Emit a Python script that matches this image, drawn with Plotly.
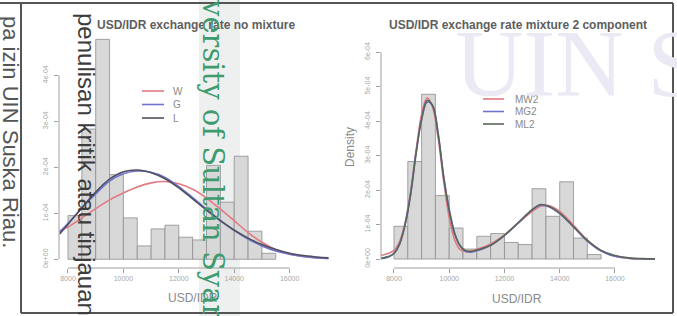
import plotly.graph_objects as go

FIG_W, FIG_H = 677, 316

# ---------------- data ----------------
bin_left_edges = [8000, 8500, 9000, 9500, 10000, 10500, 11000, 11500,
                  12000, 12500, 13000, 13500, 14000, 14500, 15000]
BIN_WIDTH = 500
hist_density = [0.95e-4, 2.83e-4, 4.78e-4, 1.84e-4, 0.90e-4, 0.29e-4, 0.66e-4, 0.74e-4,
                0.48e-4, 0.42e-4, 2.04e-4, 1.24e-4, 2.24e-4, 0.61e-4, 0.13e-4]

# no-mixture fits (left panel)
x_single = [7700, 8000, 8500, 9000, 9500, 10000, 10500, 11000, 11500, 12000, 12500,
            13000, 13500, 14000, 14500, 15000, 15500, 16000, 16500, 17000, 17400]
dens_W = [0.62e-4, 0.70e-4, 0.90e-4, 1.10e-4, 1.29e-4, 1.44e-4, 1.57e-4, 1.66e-4, 1.69e-4,
          1.64e-4, 1.52e-4, 1.33e-4, 1.09e-4, 0.84e-4, 0.58e-4, 0.37e-4, 0.21e-4, 0.11e-4,
          0.06e-4, 0.03e-4, 0.02e-4]
dens_G = [0.59e-4, 0.78e-4, 1.11e-4, 1.42e-4, 1.70e-4, 1.86e-4, 1.92e-4, 1.89e-4, 1.78e-4,
          1.58e-4, 1.34e-4, 1.09e-4, 0.84e-4, 0.63e-4, 0.44e-4, 0.29e-4, 0.18e-4, 0.11e-4,
          0.06e-4, 0.03e-4, 0.015e-4]
dens_L = [0.55e-4, 0.76e-4, 1.12e-4, 1.46e-4, 1.74e-4, 1.90e-4, 1.94e-4, 1.88e-4, 1.75e-4,
          1.55e-4, 1.31e-4, 1.07e-4, 0.84e-4, 0.63e-4, 0.46e-4, 0.32e-4, 0.21e-4, 0.13e-4,
          0.08e-4, 0.05e-4, 0.03e-4]

# 2-component mixture fits (right panel)
x_mix = [7530, 7800, 8000, 8200, 8400, 8600, 8800, 9000, 9200, 9400, 9600, 9800, 10000,
         10200, 10400, 10600, 10800, 11000, 11500, 12000, 12500, 13000, 13300, 13600,
         14000, 14500, 15000, 15500, 16000, 16500, 17000, 17450]
dens_MW2 = [0.10e-4, 0.17e-4, 0.25e-4, 0.50e-4, 1.05e-4, 1.95e-4, 3.15e-4, 4.20e-4, 4.68e-4,
            4.40e-4, 3.50e-4, 2.25e-4, 1.20e-4, 0.55e-4, 0.27e-4, 0.22e-4, 0.24e-4, 0.28e-4,
            0.44e-4, 0.70e-4, 1.04e-4, 1.38e-4, 1.53e-4, 1.55e-4, 1.38e-4, 0.98e-4, 0.55e-4,
            0.24e-4, 0.08e-4, 0.02e-4, 0.004e-4, 0.001e-4]
dens_MG2 = [0.01e-4, 0.06e-4, 0.17e-4, 0.45e-4, 1.00e-4, 1.90e-4, 3.10e-4, 4.05e-4, 4.55e-4,
            4.45e-4, 3.65e-4, 2.35e-4, 1.45e-4, 0.75e-4, 0.38e-4, 0.22e-4, 0.20e-4, 0.24e-4,
            0.40e-4, 0.68e-4, 1.05e-4, 1.42e-4, 1.56e-4, 1.52e-4, 1.32e-4, 0.93e-4, 0.52e-4,
            0.23e-4, 0.08e-4, 0.025e-4, 0.006e-4, 0.001e-4]
dens_ML2 = [0.02e-4, 0.07e-4, 0.16e-4, 0.42e-4, 0.98e-4, 1.85e-4, 3.05e-4, 4.05e-4, 4.60e-4,
            4.45e-4, 3.60e-4, 2.40e-4, 1.40e-4, 0.72e-4, 0.38e-4, 0.24e-4, 0.22e-4, 0.26e-4,
            0.40e-4, 0.69e-4, 1.06e-4, 1.43e-4, 1.58e-4, 1.53e-4, 1.33e-4, 0.94e-4, 0.54e-4,
            0.25e-4, 0.10e-4, 0.035e-4, 0.012e-4, 0.004e-4]

x_tickvals = [8000, 10000, 12000, 14000, 16000]
x_ticktext = ["8000", "10000", "12000", "14000", "16000"]
y_tickvals_left = [0, 1e-4, 2e-4, 3e-4, 4e-4]
y_ticktext_left = ["0e+00", "1e-04", "2e-04", "3e-04", "4e-04"]
y_tickvals_right = [0, 1e-4, 2e-4, 3e-4, 4e-4, 5e-4, 6e-4]
y_ticktext_right = ["0e+00", "1e-04", "2e-04", "3e-04", "4e-04", "5e-04", "6e-04"]

left_names = ["W", "G", "L"]
right_names = ["MW2", "MG2", "ML2"]
curve_colors = ["#e27a82", "#6d73cf", "#4f5060"]
right_colors = ["#e27a82", "#6d73cf", "#5a6658"]

left_title = "USD/IDR exchange rate no mixture"
right_title = "USD/IDR exchange rate mixture 2 component"
x_label = "USD/IDR"
y_label = "Density"

# ---------------- helpers ----------------
def px(x):
    return x / FIG_W

def py(y):
    return 1 - y / FIG_H

bin_mids = [e + BIN_WIDTH / 2 for e in bin_left_edges]

fig = go.Figure()

for xa, ya in (("x", "y"), ("x2", "y2")):
    fig.add_trace(go.Bar(x=bin_mids, y=hist_density, width=BIN_WIDTH,
                         marker=dict(color="#d8d8d8", line=dict(color="#8e8e8e", width=0.8)),
                         xaxis=xa, yaxis=ya, showlegend=False, hoverinfo="skip"))

for name, dens, col in zip(left_names, [dens_W, dens_G, dens_L], curve_colors):
    fig.add_trace(go.Scatter(x=x_single, y=dens, mode="lines", name=name,
                             line=dict(color=col, width=1.6, shape="spline", smoothing=1.0),
                             xaxis="x", yaxis="y", showlegend=False))

for name, dens, col in zip(right_names, [dens_MW2, dens_MG2, dens_ML2], right_colors):
    fig.add_trace(go.Scatter(x=x_mix, y=dens, mode="lines", name=name,
                             line=dict(color=col, width=1.6, shape="spline", smoothing=1.0),
                             xaxis="x2", yaxis="y2", showlegend=False))

tick_common = dict(showgrid=False, zeroline=False, showline=False, ticks="outside",
                   ticklen=4, tickcolor="#a0a0a0", tickwidth=1,
                   tickfont=dict(family="Liberation Sans, Arial", size=7, color="#a8a8a8"))

fig.update_layout(
    width=FIG_W, height=FIG_H,
    margin=dict(l=0, r=0, t=0, b=0),
    paper_bgcolor="white", plot_bgcolor="rgba(0,0,0,0)",
    showlegend=False,
    xaxis=dict(domain=[px(59), px(329)], range=[7676, 17420], anchor="y",
               tickmode="array", tickvals=x_tickvals, ticktext=x_ticktext, **tick_common),
    yaxis=dict(domain=[py(268), py(32)], range=[-0.19e-4, 4.94e-4], anchor="x",
               tickmode="array", tickvals=y_tickvals_left, ticktext=y_ticktext_left,
               tickangle=-90, ticklabelstandoff=3, **tick_common),
    xaxis2=dict(domain=[px(381), px(655)], range=[7530, 17450], anchor="y2",
                tickmode="array", tickvals=x_tickvals, ticktext=x_ticktext, **tick_common),
    yaxis2=dict(domain=[py(268), py(26)], range=[-0.26e-4, 6.76e-4], anchor="x2",
                tickmode="array", tickvals=y_tickvals_right, ticktext=y_ticktext_right,
                tickangle=-90, ticklabelstandoff=3, **tick_common),
)

shapes = []
# R-style axis lines spanning the tick range
for xr, yr, xt, yt in (("x", "y", x_tickvals, y_tickvals_left),
                       ("x2", "y2", x_tickvals, y_tickvals_right)):
    shapes.append(dict(type="line", xref=xr, yref=yr + " domain", x0=xt[0], x1=xt[-1],
                       y0=0, y1=0, line=dict(color="#a0a0a0", width=1)))
    shapes.append(dict(type="line", xref=xr + " domain", yref=yr, x0=0, x1=0,
                       y0=yt[0], y1=yt[-1], line=dict(color="#a0a0a0", width=1)))

# scan watermark band
shapes.append(dict(type="rect", xref="paper", yref="paper", x0=px(199), x1=px(240),
                   y0=0, y1=1, fillcolor="#eef0ef", line=dict(width=0), layer="below"))
# page frame lines
frame = dict(color="#555555", width=2)
shapes.append(dict(type="line", xref="paper", yref="paper", x0=0, x1=px(673), y0=py(3), y1=py(3), line=frame))
shapes.append(dict(type="line", xref="paper", yref="paper", x0=px(21), x1=px(21), y0=py(3), y1=py(313), line=frame))
shapes.append(dict(type="line", xref="paper", yref="paper", x0=px(21), x1=px(673), y0=py(313), y1=py(313), line=frame))
shapes.append(dict(type="line", xref="paper", yref="paper", x0=px(673), x1=px(673), y0=py(3), y1=py(313), line=frame))

annotations = []

# manual legends
def add_legend(names, colors, x_line0, x_line1, x_text, y_first, step):
    for i, (n, c) in enumerate(zip(names, colors)):
        yy = y_first + i * step
        shapes.append(dict(type="line", xref="paper", yref="paper", x0=px(x_line0), x1=px(x_line1),
                           y0=py(yy), y1=py(yy), line=dict(color=c, width=1.6)))
        annotations.append(dict(text=n, xref="paper", yref="paper", x=px(x_text), y=py(yy),
                                xanchor="left", yanchor="middle", showarrow=False,
                                font=dict(family="Liberation Sans, Arial", size=10, color="#8a8a8a")))

add_legend(left_names, curve_colors, 142, 164, 171, 91, 13.5)
add_legend(right_names, right_colors, 483, 504, 513, 99, 12.5)

# titles and axis labels
annotations += [
    dict(text="<b>" + left_title + "</b>", xref="paper", yref="paper", x=px(196), y=py(25),
         xanchor="center", yanchor="middle", showarrow=False,
         font=dict(family="Liberation Sans, Arial", size=12, color="#5e5e5e")),
    dict(text="<b>" + right_title + "</b>", xref="paper", yref="paper", x=px(518), y=py(25),
         xanchor="center", yanchor="middle", showarrow=False,
         font=dict(family="Liberation Sans, Arial", size=12, color="#5e5e5e")),
    dict(text=x_label, xref="paper", yref="paper", x=px(193), y=py(298),
         xanchor="center", yanchor="middle", showarrow=False,
         font=dict(family="Liberation Sans, Arial", size=12, color="#8a8a8a")),
    dict(text=x_label, xref="paper", yref="paper", x=px(517), y=py(299),
         xanchor="center", yanchor="middle", showarrow=False,
         font=dict(family="Liberation Sans, Arial", size=12, color="#8a8a8a")),
    dict(text=y_label, xref="paper", yref="paper", x=px(350), y=py(147), textangle=-90,
         xanchor="center", yanchor="middle", showarrow=False,
         font=dict(family="Liberation Sans, Arial", size=12, color="#8a8a8a")),
]

# scanned-page watermarks
annotations += [
    dict(text="UIN S", xref="paper", yref="paper", x=px(453), y=py(64),
         xanchor="left", yanchor="middle", showarrow=False,
         font=dict(family="Liberation Serif, Times New Roman", size=95, color="#ebe9f4")),
    dict(text="pa izin UIN Suska Riau.", xref="paper", yref="paper", x=px(11), y=py(132),
         textangle=90, xanchor="center", yanchor="middle", showarrow=False,
         font=dict(family="Liberation Sans, Arial", size=22, color="#555555")),
    dict(text="penulisan kritik atau tinjauan", xref="paper", yref="paper", x=px(87), y=py(164),
         textangle=90, xanchor="center", yanchor="middle", showarrow=False,
         font=dict(family="Liberation Sans, Arial", size=24, color="#3c3c3c")),
    dict(text="versity of Sultan Syar", xref="paper", yref="paper", x=px(213), y=py(158),
         textangle=90, xanchor="center", yanchor="middle", showarrow=False,
         font=dict(family="DejaVu Serif", size=29, color="#3f9a6e")),
]

fig.update_layout(shapes=shapes, annotations=annotations)
fig.write_html("out.html", config={"displayModeBar": False},
               post_script="document.body.style.margin='0';")
